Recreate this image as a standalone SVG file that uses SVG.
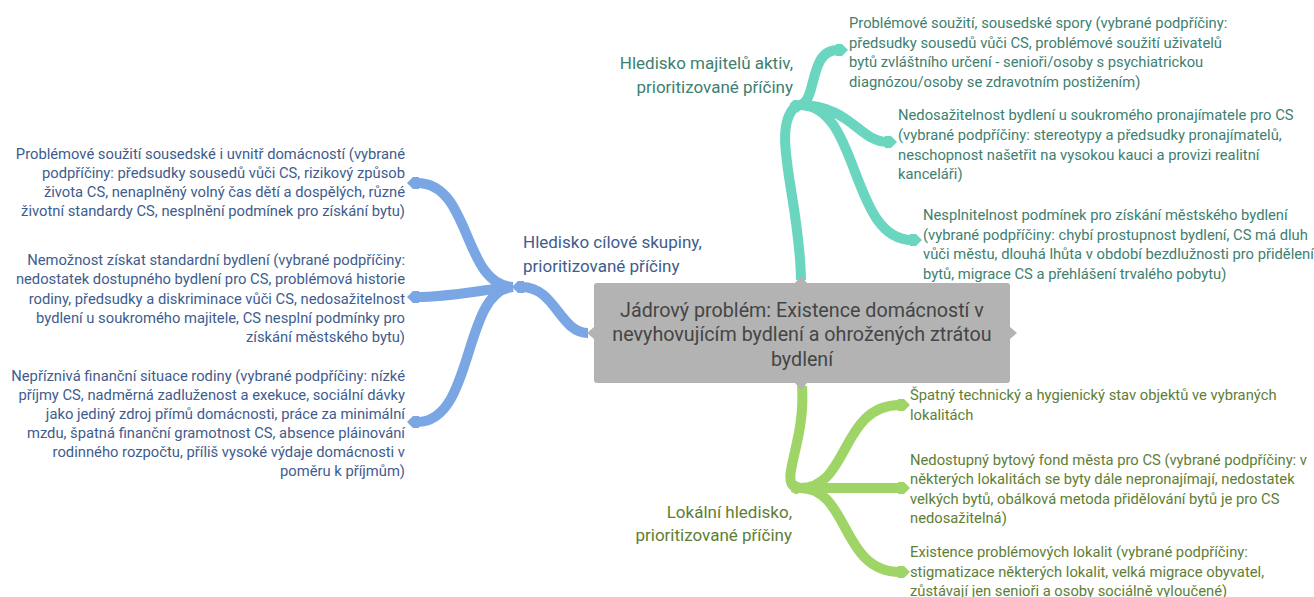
<svg xmlns="http://www.w3.org/2000/svg" width="1314" height="597" viewBox="0 0 1314 597">
<style>
.t{font-family:Roboto,"Liberation Sans",sans-serif;font-size:14.75px}
.b{fill:#3e5c8e}.g{fill:#3d8070}.o{fill:#5e7e35}
.r{text-anchor:end}
.lab{font-family:Roboto,"Liberation Sans",sans-serif;font-size:17px}
.cb{fill:none;stroke-width:10;stroke-linecap:butt}
.bl{stroke:#7ba6e4}.tl{stroke:#6bd6c0}.gl{stroke:#9fd466}
</style>
<defs>
<marker id="ab" markerUnits="userSpaceOnUse" markerWidth="14" markerHeight="14" refX="2" refY="7" orient="auto"><path d="M0 1 L6 1 L12 7 L6 13 L0 13 Z" fill="#7ba6e4"/></marker>
<marker id="at" markerUnits="userSpaceOnUse" markerWidth="14" markerHeight="14" refX="2" refY="7" orient="auto"><path d="M0 1 L6 1 L12 7 L6 13 L0 13 Z" fill="#6bd6c0"/></marker>
<marker id="ag" markerUnits="userSpaceOnUse" markerWidth="14" markerHeight="14" refX="2" refY="7" orient="auto"><path d="M0 1 L6 1 L12 7 L6 13 L0 13 Z" fill="#9fd466"/></marker>
</defs>
<g id="connectors">
<path class="cb bl" d="M588 333 C560 333 555 287 522 287" marker-end="url(#ab)"/>
<path class="cb bl" d="M513 287 C462 285 472 183 417 183" marker-end="url(#ab)"/>
<path class="cb bl" d="M513 287 C480 290 450 297 417 297" marker-end="url(#ab)"/>
<path class="cb bl" d="M513 287 C462 290 475 422 417 422" marker-end="url(#ab)"/>
<path class="cb tl" d="M801 280 C800 200 770 130 795 107" marker-end="url(#at)"/>
<path class="cb tl" d="M800 105 C818 100 808 50 838 50" marker-end="url(#at)"/>
<path class="cb tl" d="M800 105 C850 105 860 142 887 142" marker-end="url(#at)"/>
<path class="cb tl" d="M800 105 C860 105 850 240 912 240" marker-end="url(#at)"/>
<path class="cb gl" d="M802 386 C806 440 780 480 795 487" marker-end="url(#ag)"/>
<path class="cb gl" d="M800 488 C850 488 840 405 900 405" marker-end="url(#ag)"/>
<path class="cb gl" d="M800 488 C840 488 860 488 900 488" marker-end="url(#ag)"/>
<path class="cb gl" d="M800 488 C850 488 840 572 900 572" marker-end="url(#ag)"/>
</g>
<g id="core">
<rect x="594" y="283" width="416" height="100" rx="3" fill="#b3b3b3"/>
<path d="M795 283 L801 276 L807 283 Z M795 383 L801 390 L807 383 Z M594 327 L587 333 L594 339 Z M1010 327 L1017 333 L1010 339 Z" fill="#b3b3b3"/>
<text class="t" style="font-size:19.7px" fill="#454545" text-anchor="middle"><tspan x="802" y="317">Jádrový problém: Existence domácností v</tspan><tspan x="802" y="341">nevyhovujícím bydlení a ohrožených ztrátou</tspan><tspan x="802" y="366">bydlení</tspan></text>
</g>
<g id="label-cilova">
<text class="lab b"><tspan x="523" y="248">Hledisko cílové skupiny,</tspan><tspan x="523" y="272">prioritizované příčiny</tspan></text>
</g>
<g id="label-majitele">
<text class="lab g r"><tspan x="793" y="69">Hledisko majitelů aktiv,</tspan><tspan x="793" y="93">prioritizované příčiny</tspan></text>
</g>
<g id="label-lokalni">
<text class="lab o r"><tspan x="792" y="518">Lokální hledisko,</tspan><tspan x="792" y="541">prioritizované příčiny</tspan></text>
</g>
<g id="cil-1">
<text class="t b r"><tspan x="405" y="159">Problémové soužití sousedské i uvnitř domácností (vybrané</tspan><tspan x="405" y="178">podpříčiny: předsudky sousedů vůči CS, rizikový způsob</tspan><tspan x="405" y="197">života CS, nenaplněný volný čas dětí a dospělých, různé</tspan><tspan x="405" y="216">životní standardy CS, nesplnění podmínek pro získání bytu)</tspan></text>
</g>
<g id="cil-2">
<text class="t b r"><tspan x="405" y="265">Nemožnost získat standardní bydlení (vybrané podpříčiny:</tspan><tspan x="405" y="284">nedostatek dostupného bydlení pro CS, problémová historie</tspan><tspan x="405" y="304">rodiny, předsudky a diskriminace vůči CS, nedosažitelnost</tspan><tspan x="405" y="323">bydlení u soukromého majitele, CS nesplní podmínky pro</tspan><tspan x="405" y="342">získání městského bytu)</tspan></text>
</g>
<g id="cil-3">
<text class="t b r"><tspan x="405" y="381">Nepříznivá finanční situace rodiny (vybrané podpříčiny: nízké</tspan><tspan x="405" y="400">příjmy CS, nadměrná zadluženost a exekuce, sociální dávky</tspan><tspan x="405" y="419">jako jediný zdroj přímů domácnosti, práce za minimální</tspan><tspan x="405" y="438">mzdu, špatná finanční gramotnost CS, absence pláinování</tspan><tspan x="405" y="457">rodinného rozpočtu, příliš vysoké výdaje domácnosti v</tspan><tspan x="405" y="476">poměru k příjmům)</tspan></text>
</g>
<g id="maj-1">
<text class="t g"><tspan x="849" y="28">Problémové soužití, sousedské spory (vybrané podpříčiny:</tspan><tspan x="849" y="48">předsudky sousedů vůči CS, problémové soužití uživatelů</tspan><tspan x="849" y="67">bytů zvláštního určení - senioři/osoby s psychiatrickou</tspan><tspan x="849" y="87">diagnózou/osoby se zdravotním postižením)</tspan></text>
</g>
<g id="maj-2">
<text class="t g"><tspan x="898" y="120">Nedosažitelnost bydlení u soukromého pronajímatele pro CS</tspan><tspan x="898" y="140">(vybrané podpříčiny: stereotypy a předsudky pronajímatelů,</tspan><tspan x="898" y="160">neschopnost našetřit na vysokou kauci a provizi realitní</tspan><tspan x="898" y="179">kanceláři)</tspan></text>
</g>
<g id="maj-3">
<text class="t g"><tspan x="923" y="220">Nesplnitelnost podmínek pro získání městského bydlení</tspan><tspan x="923" y="240">(vybrané podpříčiny: chybí prostupnost bydlení, CS má dluh</tspan><tspan x="923" y="259">vůči městu, dlouhá lhůta v období bezdlužnosti pro přidělení</tspan><tspan x="923" y="279">bytů, migrace CS a přehlášení trvalého pobytu)</tspan></text>
</g>
<g id="lok-1">
<text class="t o"><tspan x="910" y="400">Špatný technický a hygienický stav objektů ve vybraných</tspan><tspan x="910" y="420">lokalitách</tspan></text>
</g>
<g id="lok-2">
<text class="t o"><tspan x="910" y="465">Nedostupný bytový fond města pro CS (vybrané podpříčiny: v</tspan><tspan x="910" y="484">některých lokalitách se byty dále nepronajímají, nedostatek</tspan><tspan x="910" y="504">velkých bytů, obálková metoda přidělování bytů je pro CS</tspan><tspan x="910" y="523">nedosažitelná)</tspan></text>
</g>
<g id="lok-3">
<text class="t o"><tspan x="910" y="557">Existence problémových lokalit (vybrané podpříčiny:</tspan><tspan x="910" y="577">stigmatizace některých lokalit, velká migrace obyvatel,</tspan><tspan x="910" y="596">zůstávají jen senioři a osoby sociálně vyloučené)</tspan></text>
</g>
</svg>
